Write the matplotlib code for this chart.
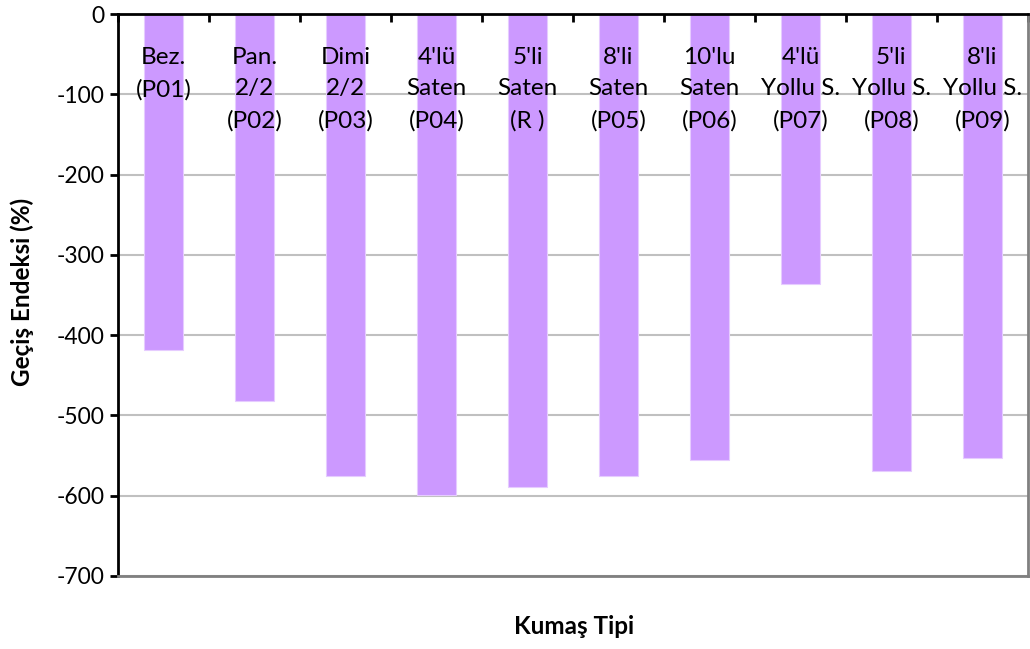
import numpy as np
import matplotlib.pyplot as plt

# fabric types and transition index values
kumas = ["Bez.\n(P01)", "Pan.\n2/2\n(P02)", "Dimi\n2/2\n(P03)", "4'lü\nSaten\n(P04)",
         "5'li\nSaten\n(R )", "8'li\nSaten\n(P05)", "10'lu\nSaten\n(P06)",
         "4'lü\nYollu S.\n(P07)", "5'li\nYollu S.\n(P08)", "8'li\nYollu S.\n(P09)"]
endeks = [-418, -482, -575, -599, -589, -575, -555, -336, -569, -553]
y_ticks = [0, -100, -200, -300, -400, -500, -600, -700]

plt.rcParams['font.family'] = ['Lato', 'DejaVu Sans']

fig = plt.figure(figsize=(10.30, 6.49), dpi=100)
ax = fig.add_axes([0.1146, 0.1125, 0.8834, 0.8659])

x = np.arange(len(kumas))
ax.bar(x, endeks, width=0.43, color="#CC99FF", edgecolor="#E6CCFF", linewidth=0.8, zorder=2)

ax.set_xlim(-0.5, len(kumas) - 0.5)
ax.set_ylim(-700, 0)
ax.set_yticks(y_ticks)
ax.set_yticklabels([str(v) for v in y_ticks], fontsize=16.5)
ax.yaxis.grid(True, color="#C0C0C0", linewidth=1.5, zorder=0)

# category axis sits at zero (top)
ax.xaxis.tick_top()
ax.set_xticks(np.arange(-0.5, len(kumas), 1.0))
ax.set_xticklabels([])
ax.tick_params(axis="x", direction="in", length=6, width=2, color="black")
ax.tick_params(axis="y", direction="out", length=6, width=2, color="black", pad=4)

for i, lab in enumerate(kumas):
    ax.text(i, -41, lab, ha="center", va="top", fontsize=17.5, linespacing=1.62, zorder=3)

ax.spines["top"].set_linewidth(2)
ax.spines["top"].set_color("black")
ax.spines["left"].set_linewidth(2)
ax.spines["left"].set_color("black")
ax.spines["bottom"].set_color("#808080")
ax.spines["bottom"].set_linewidth(2)
ax.spines["right"].set_color("#808080")
ax.spines["right"].set_linewidth(2)

fig.text(22 / 1030, 1 - 292 / 649, "Geçiş Endeksi (%)", rotation=90, ha="center", va="center",
         fontsize=17.5, fontweight="bold")
fig.text(574 / 1030, 1 - 626 / 649, "Kumaş Tipi", ha="center", va="center", fontsize=17.5, fontweight="bold")

fig.savefig("out.png", dpi=100)
